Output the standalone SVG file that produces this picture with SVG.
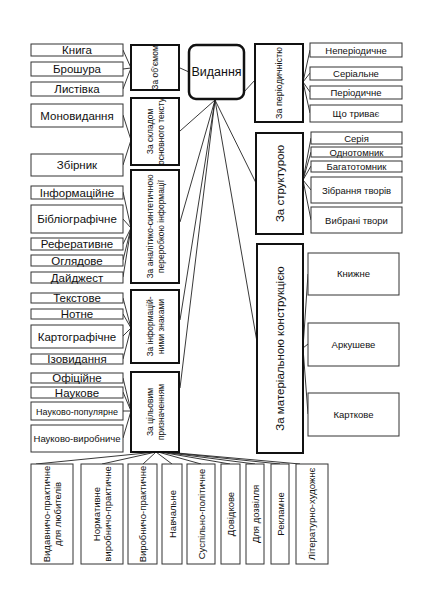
<svg xmlns="http://www.w3.org/2000/svg" width="425" height="600" viewBox="0 0 425 600">
<style>
text{font-family:"Liberation Sans",Arial,sans-serif;fill:#111;text-anchor:middle}
.leaf{fill:#fff;stroke:#333;stroke-width:1}
.cat{fill:#fff;stroke:#111;stroke-width:2}
.hub{fill:#fff;stroke:#111;stroke-width:2.5}
.l{font-size:11.5px}
.s{font-size:9.5px}
.c{font-size:8.5px}
.b{font-size:9.5px}
#connectors line{stroke:#222;stroke-width:0.9}
</style>
<rect width="425" height="600" fill="#fff"/>
<g id="connectors">
<line x1="189" y1="72" x2="180" y2="68"/>
<line x1="215" y1="100" x2="180" y2="131"/>
<line x1="215" y1="100" x2="180" y2="222"/>
<line x1="215" y1="100" x2="180" y2="320"/>
<line x1="215" y1="100" x2="180" y2="388"/>
<line x1="215" y1="100" x2="256" y2="183"/>
<line x1="215" y1="100" x2="257" y2="342"/>
<line x1="243" y1="93" x2="255" y2="80"/>
<line x1="123" y1="50" x2="131" y2="68"/>
<line x1="123" y1="69" x2="131" y2="68"/>
<line x1="123" y1="89" x2="131" y2="68"/>
<line x1="123" y1="115" x2="131" y2="140"/>
<line x1="123" y1="165" x2="131" y2="140"/>
<line x1="123" y1="192" x2="131" y2="228"/>
<line x1="123" y1="219" x2="131" y2="228"/>
<line x1="123" y1="244" x2="131" y2="228"/>
<line x1="123" y1="260" x2="131" y2="228"/>
<line x1="123" y1="277" x2="131" y2="228"/>
<line x1="123" y1="298" x2="131" y2="328"/>
<line x1="123" y1="314" x2="131" y2="328"/>
<line x1="123" y1="336" x2="131" y2="328"/>
<line x1="123" y1="359" x2="131" y2="328"/>
<line x1="123" y1="378" x2="131" y2="411"/>
<line x1="123" y1="392" x2="131" y2="411"/>
<line x1="123" y1="411" x2="131" y2="411"/>
<line x1="123" y1="438" x2="131" y2="411"/>
<line x1="303" y1="82" x2="310" y2="50"/>
<line x1="303" y1="82" x2="310" y2="73"/>
<line x1="303" y1="82" x2="310" y2="92"/>
<line x1="303" y1="82" x2="310" y2="113"/>
<line x1="303" y1="180" x2="311" y2="138"/>
<line x1="303" y1="180" x2="311" y2="152"/>
<line x1="303" y1="180" x2="311" y2="166"/>
<line x1="303" y1="180" x2="311" y2="190"/>
<line x1="303" y1="180" x2="311" y2="220"/>
<line x1="303" y1="348" x2="308" y2="274"/>
<line x1="303" y1="348" x2="308" y2="344"/>
<line x1="303" y1="348" x2="308" y2="414"/>
<line x1="156" y1="452" x2="36" y2="464"/>
<line x1="156" y1="452" x2="102" y2="464"/>
<line x1="156" y1="452" x2="143" y2="464"/>
<line x1="156" y1="452" x2="172" y2="464"/>
<line x1="158" y1="452" x2="201" y2="464"/>
<line x1="160" y1="452" x2="230" y2="464"/>
<line x1="162" y1="452" x2="255" y2="464"/>
<line x1="164" y1="452" x2="280" y2="464"/>
<line x1="166" y1="452" x2="300" y2="464"/>
</g>
<g id="vydannia"><rect class="hub" x="189" y="45" width="55" height="54" rx="7"/><text x="216.5" y="76" font-size="12.5">Видання</text></g>
<g id="za-obyemom"><rect class="cat" x="131" y="45" width="48" height="45"/><text class="c" transform="translate(158,67.5) rotate(-90)">За об’ємом</text></g>
<g id="za-skladom"><rect class="cat" x="131" y="98" width="48" height="67"/><text class="c" transform="translate(155,131.5) rotate(-90)"><tspan x="0" y="-2">За складом</tspan><tspan x="0" y="9">основного тексту</tspan></text></g>
<g id="za-analit"><rect class="cat" x="131" y="170" width="48" height="113"/><text class="c" transform="translate(155,226.5) rotate(-90)"><tspan x="0" y="-2">За аналітико-синтетичною</tspan><tspan x="0" y="9">переробкою інформації</tspan></text></g>
<g id="za-znakamy"><rect class="cat" x="131" y="290" width="48" height="73"/><text class="c" transform="translate(155,326.5) rotate(-90)"><tspan x="0" y="-2">За інформацій-</tspan><tspan x="0" y="9">ними знаками</tspan></text></g>
<g id="za-pryznach"><rect class="cat" x="131" y="372" width="48" height="80"/><text class="c" transform="translate(155,412) rotate(-90)" font-size="9"><tspan x="0" y="-2">За цільовим</tspan><tspan x="0" y="9">призначенням</tspan></text></g>
<g id="za-period"><rect class="cat" x="255" y="44" width="48" height="78"/><text transform="translate(282,83) rotate(-90)" font-size="9">За періодичністю</text></g>
<g id="za-struktur"><rect class="cat" x="256" y="133" width="47" height="101"/><text transform="translate(283.5,183.5) rotate(-90)" font-size="11.5">За структурою</text></g>
<g id="za-material"><rect class="cat" x="257" y="244" width="46" height="209"/><text transform="translate(284,348.5) rotate(-90)" font-size="11.5">За матеріальною конструкцією</text></g>
<g id="knyha"><rect class="leaf" x="31" y="44" width="92" height="12"/><text class="l" x="77" y="54">Книга</text></g>
<g id="broshura"><rect class="leaf" x="31" y="62" width="92" height="14"/><text class="l" x="77" y="73">Брошура</text></g>
<g id="lystivka"><rect class="leaf" x="31" y="82" width="92" height="14"/><text class="l" x="77" y="93">Листівка</text></g>
<g id="monovydannia"><rect class="leaf" x="31" y="104" width="92" height="23"/><text class="l" x="77" y="119.5">Моновидання</text></g>
<g id="zbirnyk"><rect class="leaf" x="31" y="154" width="92" height="22"/><text class="l" x="77" y="169">Збірник</text></g>
<g id="informatsiine"><rect class="leaf" x="31" y="186" width="92" height="13"/><text class="l" x="77" y="196.5">Інформаційне</text></g>
<g id="bibliohrafichne"><rect class="leaf" x="31" y="205" width="92" height="28"/><text class="l" x="77" y="223">Бібліографічне</text></g>
<g id="referatyvne"><rect class="leaf" x="31" y="238" width="92" height="12"/><text class="l" x="77" y="248">Реферативне</text></g>
<g id="ohliadove"><rect class="leaf" x="31" y="255" width="92" height="11"/><text class="l" x="77" y="265">Оглядове</text></g>
<g id="daidzhest"><rect class="leaf" x="31" y="272" width="92" height="11"/><text class="l" x="77" y="282">Дайджест</text></g>
<g id="tekstove"><rect class="leaf" x="31" y="293" width="92" height="10"/><text class="l" x="77" y="302">Текстове</text></g>
<g id="notne"><rect class="leaf" x="31" y="309" width="92" height="10"/><text class="l" x="77" y="318">Нотне</text></g>
<g id="kartohrafichne"><rect class="leaf" x="31" y="325" width="92" height="23"/><text class="l" x="77" y="340.5">Картографічне</text></g>
<g id="izovydannia"><rect class="leaf" x="31" y="354" width="92" height="10"/><text class="l" x="77" y="363">Ізовидання</text></g>
<g id="ofitsiine"><rect class="leaf" x="31" y="373" width="92" height="10"/><text class="l" x="77" y="382">Офіційне</text></g>
<g id="naukove"><rect class="leaf" x="31" y="387" width="92" height="11"/><text class="l" x="77" y="396.5">Наукове</text></g>
<g id="naukovo-populiarne"><rect class="leaf" x="31" y="402" width="92" height="18"/><text x="77" y="414.5" font-size="9">Науково-популярне</text></g>
<g id="naukovo-vyrobnyche"><rect class="leaf" x="31" y="425" width="92" height="27"/><text x="77" y="441.5" font-size="9.5">Науково-виробниче</text></g>
<g id="neperiodychne"><rect class="leaf" x="310" y="43" width="92" height="14"/><text class="s" x="356" y="53.5">Неперіодичне</text></g>
<g id="serialne"><rect class="leaf" x="310" y="67" width="92" height="13"/><text class="s" x="356" y="77">Серіальне</text></g>
<g id="periodychne"><rect class="leaf" x="310" y="86" width="92" height="13"/><text class="s" x="356" y="96">Періодичне</text></g>
<g id="shcho-tryvaie"><rect class="leaf" x="310" y="105" width="92" height="17"/><text class="s" x="356" y="117">Що триває</text></g>
<g id="seriia"><rect class="leaf" x="311" y="132" width="91" height="12"/><text class="s" x="356.5" y="141.5">Серія</text></g>
<g id="odnotomnyk"><rect class="leaf" x="311" y="147" width="91" height="10"/><text class="s" x="356.5" y="155.5">Однотомник</text></g>
<g id="bahatotomnyk"><rect class="leaf" x="311" y="161" width="91" height="11"/><text class="s" x="356.5" y="170">Багатотомник</text></g>
<g id="zibrannia"><rect class="leaf" x="311" y="177" width="91" height="26"/><text class="s" x="356.5" y="193.5">Зібрання творів</text></g>
<g id="vybrani"><rect class="leaf" x="311" y="207" width="91" height="26"/><text class="s" x="356.5" y="223.5">Вибрані твори</text></g>
<g id="knyzhne"><rect class="leaf" x="308" y="253" width="91" height="42"/><text class="s" x="353.5" y="277">Книжне</text></g>
<g id="arkusheve"><rect class="leaf" x="308" y="323" width="91" height="43"/><text class="s" x="353.5" y="347.5">Аркушеве</text></g>
<g id="kartkove"><rect class="leaf" x="308" y="393" width="91" height="43"/><text class="s" x="353.5" y="417.5">Карткове</text></g>
<g id="vydavnycho-praktychne"><rect class="leaf" x="31" y="464" width="42" height="100"/><text class="b" transform="translate(52,514) rotate(-90)"><tspan x="0" y="-2">Видавничо-практичне</tspan><tspan x="0" y="9">для любителів</tspan></text></g>
<g id="normatyvne"><rect class="leaf" x="81" y="464" width="42" height="100"/><text class="b" transform="translate(102,514) rotate(-90)"><tspan x="0" y="-2">Нормативне</tspan><tspan x="0" y="9">виробничо-практичне</tspan></text></g>
<g id="vyrobnycho-praktychne"><rect class="leaf" x="128" y="464" width="29" height="100"/><text class="b" transform="translate(146,514) rotate(-90)">Виробничо-практичне</text></g>
<g id="navchalne"><rect class="leaf" x="162" y="464" width="20" height="100"/><text class="b" transform="translate(175.5,514) rotate(-90)">Навчальне</text></g>
<g id="suspilno-politychne"><rect class="leaf" x="187" y="464" width="28" height="100"/><text class="b" transform="translate(204.5,514) rotate(-90)">Суспільно-політичне</text></g>
<g id="dovidkove"><rect class="leaf" x="221" y="464" width="19" height="100"/><text class="b" transform="translate(234,514) rotate(-90)">Довідкове</text></g>
<g id="dlia-dozvillia"><rect class="leaf" x="246" y="464" width="18" height="100"/><text class="b" transform="translate(258.5,514) rotate(-90)">Для дозвілля</text></g>
<g id="reklamne"><rect class="leaf" x="271" y="464" width="18" height="100"/><text class="b" transform="translate(283.5,514) rotate(-90)">Рекламне</text></g>
<g id="literaturno-khudozhnie"><rect class="leaf" x="296" y="464" width="32" height="100"/><text class="b" transform="translate(315,514) rotate(-90)">Літературно-художнє</text></g>
</svg>
